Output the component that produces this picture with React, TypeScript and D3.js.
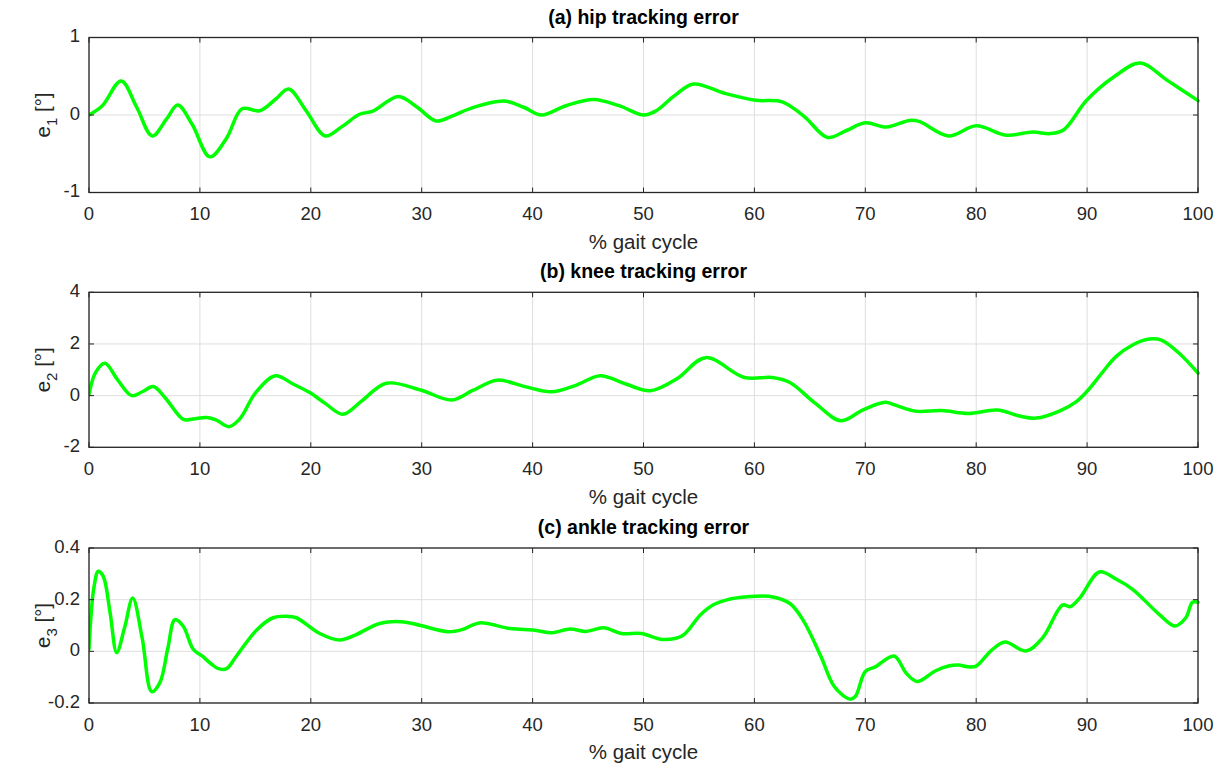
import { useMemo } from "react";
import * as d3 from "d3";

// % gait cycle positions and tracking errors
const hipX = [0, 1.2, 2.9, 4.3, 5.7, 7.0, 8.0, 9.3, 10.9, 12.4, 13.8, 15.4, 16.8, 18.0, 19.6, 21.3, 22.8, 24.4, 25.6, 27.9, 29.6, 31.3, 32.8, 34.3, 37.4, 39.2, 40.8, 43.0, 45.5, 47.8, 50.0, 51.1, 52.8, 54.5, 57.3, 60.1, 62.5, 64.5, 66.6, 68.3, 70.0, 71.9, 74.0, 74.9, 77.5, 80.0, 82.7, 85.1, 86.7, 87.9, 89.96, 92.4, 94.8, 97.2, 100];
const hipE = [0, 0.12, 0.44, 0.1, -0.27, -0.05, 0.13, -0.12, -0.54, -0.3, 0.08, 0.055, 0.2, 0.335, 0.05, -0.27, -0.15, 0.01, 0.05, 0.24, 0.1, -0.077, -0.01, 0.08, 0.18, 0.1, 0.0, 0.12, 0.2, 0.12, 0.0, 0.05, 0.25, 0.4, 0.28, 0.19, 0.17, -0.02, -0.29, -0.2, -0.1, -0.155, -0.07, -0.085, -0.27, -0.14, -0.26, -0.22, -0.24, -0.19, 0.19, 0.49, 0.67, 0.45, 0.185];

const kneeX = [0, 0.6, 1.44, 2.6, 3.85, 4.8, 5.8, 6.9, 8.5, 9.4, 10.6, 11.5, 12.6, 13.6, 15.0, 16.8, 18.4, 19.9, 21.3, 22.9, 24.6, 26.8, 29.9, 32.7, 34.6, 36.8, 39.3, 41.7, 43.9, 46.1, 48.4, 50.6, 53.0, 55.6, 59.1, 61.6, 63.2, 65.5, 67.8, 69.8, 71.8, 72.7, 74.5, 76.9, 79.3, 81.9, 83.9, 85.4, 87.5, 89.0, 90, 91.4, 92.6, 94.1, 95.6, 96.7, 98.3, 100];
const kneeE = [0.05, 0.9, 1.25, 0.6, 0.0, 0.15, 0.35, -0.1, -0.92, -0.9, -0.85, -0.95, -1.2, -0.9, 0.1, 0.77, 0.45, 0.12, -0.3, -0.72, -0.2, 0.48, 0.22, -0.17, 0.2, 0.6, 0.35, 0.15, 0.4, 0.77, 0.45, 0.19, 0.65, 1.47, 0.7, 0.7, 0.51, -0.3, -0.97, -0.55, -0.26, -0.37, -0.6, -0.58, -0.69, -0.56, -0.79, -0.87, -0.6, -0.24, 0.17, 0.91, 1.51, 1.96, 2.19, 2.15, 1.64, 0.87];

const ankleX = [0, 0.42, 0.84, 1.29, 1.9, 2.5, 3.2, 3.94, 4.8, 5.65, 6.4, 7.1, 7.75, 8.5, 9.4, 10.2, 11.06, 11.66, 12.4, 13.3, 15.1, 16.6, 17.8, 18.7, 20.8, 22.6, 24.1, 26.2, 28.4, 29.9, 32.4, 33.7, 35.2, 38.0, 40.2, 41.7, 43.4, 44.8, 46.4, 48.0, 49.8, 51.7, 53.5, 55.1, 56.3, 57.6, 59.1, 61.3, 63.2, 64.4, 66.0, 67.2, 68.6, 69.1, 70.0, 70.9, 72.6, 73.7, 74.7, 76.3, 77.5, 78.4, 79.3, 80.0, 81.4, 82.6, 84.5, 86.0, 87.8, 88.5, 89.4, 91.1, 92.6, 94.1, 96.5, 97.9, 98.9, 99.5, 100];
const ankleE = [0.008, 0.24, 0.31, 0.29, 0.15, -0.005, 0.09, 0.206, 0.05, -0.156, -0.12, 0.01, 0.123, 0.097, 0.008, -0.018, -0.05, -0.067, -0.067, -0.018, 0.082, 0.13, 0.136, 0.13, 0.069, 0.044, 0.065, 0.108, 0.114, 0.1, 0.076, 0.085, 0.11, 0.088, 0.082, 0.072, 0.086, 0.077, 0.091, 0.069, 0.069, 0.046, 0.06, 0.14, 0.18, 0.2, 0.21, 0.213, 0.185, 0.12, -0.02, -0.136, -0.185, -0.175, -0.078, -0.06, -0.018, -0.085, -0.117, -0.076, -0.057, -0.053, -0.06, -0.057, 0.005, 0.036, 0.001, 0.053, 0.18, 0.173, 0.21, 0.307, 0.28, 0.24, 0.143, 0.098, 0.13, 0.19, 0.19];

const xTicks = [0, 10, 20, 30, 40, 50, 60, 70, 80, 90, 100];
const hipTicks = [-1, 0, 1];
const kneeTicks = [-2, 0, 2, 4];
const ankleTicks = [-0.2, 0, 0.2, 0.4];

const titles = ["(a) hip tracking error", "(b) knee tracking error", "(c) ankle tracking error"];

const W = 1222;
const H = 769;
const left = 89;
const right = 1198;
const FONT = "'Liberation Sans', Arial, Helvetica, sans-serif";
const TXT = "#262626";

// plain hyphen minus, like the original figure
const fmtInt = (v: number) => String(v);
const fmtDec = (v: number) => (v === 0 ? "0" : v.toFixed(1));

type PanelProps = {
  title: string;
  idx: number;
  xs: number[];
  ys: number[];
  domain: [number, number];
  yTicks: number[];
  fmt: (v: number) => string;
  top: number;
  bottom: number;
};

const Panel = ({ title, idx, xs, ys, domain, yTicks, fmt, top, bottom }: PanelProps) => {
  const x = useMemo(() => d3.scaleLinear().domain([0, 100]).range([left, right]), []);
  const y = useMemo(() => d3.scaleLinear().domain(domain).range([bottom, top]), [domain, top, bottom]);
  const pts = xs.map((v, i) => [v, ys[i]] as [number, number]);
  const line = d3
    .line<[number, number]>()
    .x((d) => x(d[0]))
    .y((d) => y(d[1]))
    .curve(d3.curveCatmullRom.alpha(0.5));
  const tick = 5;
  const midY = (top + bottom) / 2;

  return (
    <g>
      {xTicks.map((t) => (
        <line key={"gx" + t} x1={x(t)} x2={x(t)} y1={top} y2={bottom} stroke="#dedede" strokeWidth={1} />
      ))}
      {yTicks.map((t) => (
        <line key={"gy" + t} x1={left} x2={right} y1={y(t)} y2={y(t)} stroke="#dedede" strokeWidth={1} />
      ))}
      <clipPath id={"clip" + idx}>
        <rect x={left} y={top - 2} width={right - left + 2} height={bottom - top + 4} />
      </clipPath>
      <path
        d={line(pts) ?? ""}
        fill="none"
        stroke="#00ff00"
        strokeWidth={3.5}
        strokeLinejoin="round"
        strokeLinecap="round"
        clipPath={`url(#clip${idx})`}
      />
      {xTicks.map((t) => (
        <g key={"tx" + t}>
          <line x1={x(t)} x2={x(t)} y1={bottom} y2={bottom - tick} stroke={TXT} strokeWidth={1} />
          <line x1={x(t)} x2={x(t)} y1={top} y2={top + tick} stroke={TXT} strokeWidth={1} />
          <text x={x(t)} y={bottom + 23} textAnchor="middle" dominantBaseline="middle" fontSize={18.5} fill={TXT} fontFamily={FONT}>
            {t}
          </text>
        </g>
      ))}
      {yTicks.map((t) => (
        <g key={"ty" + t}>
          <line x1={left} x2={left + tick} y1={y(t)} y2={y(t)} stroke={TXT} strokeWidth={1} />
          <line x1={right} x2={right - tick} y1={y(t)} y2={y(t)} stroke={TXT} strokeWidth={1} />
          <text x={80} y={y(t)} textAnchor="end" dominantBaseline="middle" fontSize={18.5} fill={TXT} fontFamily={FONT}>
            {fmt(t)}
          </text>
        </g>
      ))}
      <rect x={left} y={top} width={right - left} height={bottom - top} fill="none" stroke={TXT} strokeWidth={1.3} />
      <text x={(left + right) / 2} y={top - 19} textAnchor="middle" dominantBaseline="middle" fontSize={19.5} fontWeight="bold" fill="#000" fontFamily={FONT}>
        {title}
      </text>
      <text x={(left + right) / 2} y={bottom + 51} textAnchor="middle" dominantBaseline="middle" fontSize={20.5} fill={TXT} fontFamily={FONT}>
        % gait cycle
      </text>
      <text transform={`translate(50,${midY}) rotate(-90)`} textAnchor="middle" fontSize={20.5} fill={TXT} fontFamily={FONT}>
        e
        <tspan fontSize={15} dy={7}>{idx + 1}</tspan>
        <tspan dy={-7}> [°]</tspan>
      </text>
    </g>
  );
};

export default function App() {
  return (
    <svg width={W} height={H} style={{ position: "absolute", left: 0, top: 0, background: "#fff" }}>
      <rect width={W} height={H} fill="#fff" />
      <Panel title={titles[0]} idx={0} xs={hipX} ys={hipE} domain={[-1, 1]} yTicks={hipTicks} fmt={fmtInt} top={37.5} bottom={192.5} />
      <Panel title={titles[1]} idx={1} xs={kneeX} ys={kneeE} domain={[-2, 4]} yTicks={kneeTicks} fmt={fmtInt} top={292.3} bottom={447.3} />
      <Panel title={titles[2]} idx={2} xs={ankleX} ys={ankleE} domain={[-0.2, 0.4]} yTicks={ankleTicks} fmt={fmtDec} top={548} bottom={703} />
    </svg>
  );
}
